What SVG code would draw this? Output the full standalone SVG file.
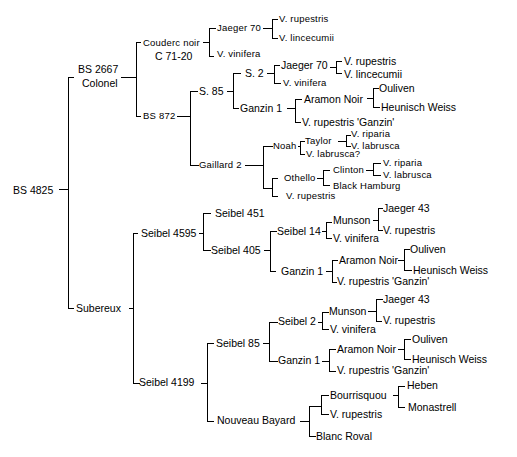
<svg xmlns="http://www.w3.org/2000/svg" width="517" height="457" viewBox="0 0 517 457">
<style>
text{fill:#000}
.m{font-family:"Liberation Sans",Arial,sans-serif;font-size:10.5px}
.s{font-family:"Liberation Sans",Arial,sans-serif;font-size:9.5px;letter-spacing:0.2px}
.c path{fill:none;stroke:#000;stroke-width:1;shape-rendering:crispEdges}
</style>
<rect width="517" height="457" fill="#fff"/>
<g class="c" id="connectors" transform="translate(0.5,0.5)">
<path d="M58 189H68 M73 77H68V308H73"/>
<path d="M120 77H136 M140 42H136V116H140"/>
<path d="M202 42H209 M215 28H209V56H213"/>
<path d="M262 28H272 M277 19H272V38H277"/>
<path d="M176 116H190 M197 91H190V165H198"/>
<path d="M226 91H233 M240 73H233V108H238"/>
<path d="M266 73H274 M279 65H274V83H280"/>
<path d="M329 67H336 M341 61H336V73H341"/>
<path d="M286 108H295 M301 99H295V122H300"/>
<path d="M366 98H373 M378 88H373V107H379"/>
<path d="M244 165H263 M272 146H263V188H272 M277 178H272V196H277"/>
<path d="M297 146H300 M304 141H300V154H304"/>
<path d="M337 141H346 M350 135H346V146H350"/>
<path d="M316 178H323 M329 170H323V185H329"/>
<path d="M365 170H373 M380 163H373V175H380"/>
<path d="M128 308H133 M137 233H133V383H139"/>
<path d="M198 233H203 M210 213H203V250H210"/>
<path d="M263 250H270 M276 231H270V271H275"/>
<path d="M321 231H326 M331 222H326V238H331"/>
<path d="M372 220H378 M382 208H378V230H382"/>
<path d="M325 271H332 M337 260H332V282H336"/>
<path d="M397 260H404 M409 249H404V270H411"/>
<path d="M200 383H207 M213 343H207V421H213"/>
<path d="M262 343H269 M277 322H269V361H277"/>
<path d="M317 322H322 M328 312H322V329H328"/>
<path d="M367 311H376 M382 299H376V321H381"/>
<path d="M321 361H329 M335 349H329V371H335"/>
<path d="M397 349H404 M410 339H404V359H410"/>
<path d="M299 421H309 M321 406H309V436H315"/>
<path d="M328 395H321V414H328"/>
<path d="M392 395H398 M404 386H398V407H404"/>
</g>
<g id="n-bs4825"><text class="m" x="13" y="194">BS 4825</text></g>
<g id="n-bs2667"><text class="m" x="78" y="73">BS 2667</text><text class="m" x="82" y="87">Colonel</text></g>
<g id="n-couderc"><text class="s" x="143" y="46">Couderc noir</text><text class="m" x="155" y="60">C 71-20</text></g>
<g id="n-jaeger70a"><text class="s" x="217" y="31">Jaeger 70</text></g>
<g id="n-vrup-a"><text class="s" x="279" y="22">V. rupestris</text></g>
<g id="n-vlinc-a"><text class="s" x="279" y="41">V. lincecumii</text></g>
<g id="n-vvin-a"><text class="s" x="217" y="57">V. vinifera</text></g>
<g id="n-bs872"><text class="s" x="143" y="119">BS 872</text></g>
<g id="n-s85"><text class="m" x="199" y="95">S. 85</text></g>
<g id="n-s2"><text class="m" x="245" y="77">S. 2</text></g>
<g id="n-jaeger70b"><text class="m" x="281" y="69">Jaeger 70</text></g>
<g id="n-vrup-b"><text class="m" x="344" y="65">V. rupestris</text></g>
<g id="n-vlinc-b"><text class="m" x="344" y="78">V. lincecumii</text></g>
<g id="n-vvin-b"><text class="s" x="283" y="86">V. vinifera</text></g>
<g id="n-ganzin-a"><text class="m" x="240" y="112">Ganzin 1</text></g>
<g id="n-aramon-a"><text class="m" x="304" y="103">Aramon Noir</text></g>
<g id="n-ouliven-a"><text class="m" x="379" y="92">Ouliven</text></g>
<g id="n-heunisch-a"><text class="m" x="381" y="111">Heunisch Weiss</text></g>
<g id="n-vrg-a"><text class="m" x="302" y="126">V. rupestris 'Ganzin'</text></g>
<g id="n-gaillard"><text class="s" x="199" y="168">Gaillard 2</text></g>
<g id="n-noah"><text class="s" x="273" y="149">Noah</text></g>
<g id="n-taylor"><text class="s" x="305" y="144">Taylor</text></g>
<g id="n-vrip-a"><text class="s" x="351" y="137">V. riparia</text></g>
<g id="n-vlab-a"><text class="s" x="351" y="149">V. labrusca</text></g>
<g id="n-vlabq"><text class="s" x="306" y="157">V. labrusca?</text></g>
<g id="n-othello"><text class="s" x="284" y="181">Othello</text></g>
<g id="n-clinton"><text class="s" x="333" y="173">Clinton</text></g>
<g id="n-vrip-b"><text class="s" x="383" y="166">V. riparia</text></g>
<g id="n-vlab-b"><text class="s" x="383" y="178">V. labrusca</text></g>
<g id="n-blackh"><text class="s" x="333" y="189">Black Hamburg</text></g>
<g id="n-vrup-c"><text class="s" x="286" y="199">V. rupestris</text></g>
<g id="n-subereux"><text class="m" x="76" y="312">Subereux</text></g>
<g id="n-s4595"><text class="m" x="141" y="237">Seibel 4595</text></g>
<g id="n-s451"><text class="m" x="215" y="217">Seibel 451</text></g>
<g id="n-s405"><text class="m" x="211" y="254">Seibel 405</text></g>
<g id="n-s14"><text class="m" x="277" y="235">Seibel 14</text></g>
<g id="n-munson-a"><text class="m" x="333" y="224">Munson</text></g>
<g id="n-j43-a"><text class="m" x="383" y="212">Jaeger 43</text></g>
<g id="n-vrup-d"><text class="m" x="383" y="234">V. rupestris</text></g>
<g id="n-vvin-c"><text class="m" x="333" y="242">V. vinifera</text></g>
<g id="n-ganzin-b"><text class="m" x="281" y="275">Ganzin 1</text></g>
<g id="n-aramon-b"><text class="m" x="339" y="264">Aramon Noir</text></g>
<g id="n-ouliven-b"><text class="m" x="410" y="253">Ouliven</text></g>
<g id="n-heunisch-b"><text class="m" x="413" y="274">Heunisch Weiss</text></g>
<g id="n-vrg-b"><text class="m" x="337" y="285">V. rupestris 'Ganzin'</text></g>
<g id="n-s4199"><text class="m" x="139" y="386">Seibel 4199</text></g>
<g id="n-s85b"><text class="m" x="216" y="347">Seibel 85</text></g>
<g id="n-s2b"><text class="m" x="278" y="325">Seibel 2</text></g>
<g id="n-munson-b"><text class="m" x="329" y="315">Munson</text></g>
<g id="n-j43-b"><text class="m" x="383" y="303">Jaeger 43</text></g>
<g id="n-vrup-e"><text class="m" x="383" y="324">V. rupestris</text></g>
<g id="n-vvin-d"><text class="m" x="330" y="333">V. vinifera</text></g>
<g id="n-ganzin-c"><text class="m" x="278" y="364">Ganzin 1</text></g>
<g id="n-aramon-c"><text class="m" x="337" y="353">Aramon Noir</text></g>
<g id="n-ouliven-c"><text class="m" x="412" y="343">Ouliven</text></g>
<g id="n-heunisch-c"><text class="m" x="412" y="363">Heunisch Weiss</text></g>
<g id="n-vrg-c"><text class="m" x="337" y="374">V. rupestris 'Ganzin'</text></g>
<g id="n-nb"><text class="m" x="217" y="424">Nouveau Bayard</text></g>
<g id="n-bourr"><text class="m" x="330" y="399">Bourrisquou</text></g>
<g id="n-vrup-f"><text class="m" x="330" y="418">V. rupestris</text></g>
<g id="n-blanc"><text class="m" x="316" y="440">Blanc Roval</text></g>
<g id="n-heben"><text class="m" x="407" y="389">Heben</text></g>
<g id="n-monast"><text class="m" x="408" y="411">Monastrell</text></g>
</svg>
